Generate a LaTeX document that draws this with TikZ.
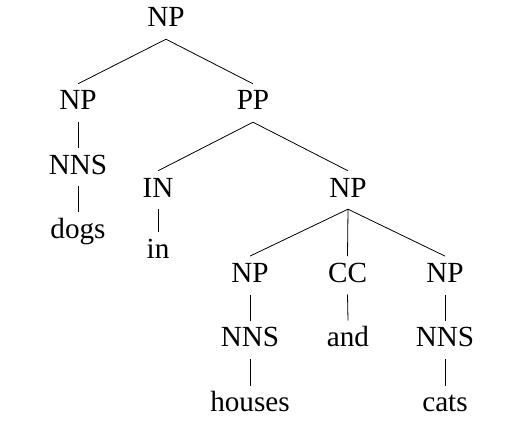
\documentclass[tikz,border=0pt]{standalone}
\usepackage{fontspec}
\setmainfont{Liberation Serif}
\begin{document}
\begin{tikzpicture}[x=1pt,y=-1pt,
  lab/.style={anchor=base,inner sep=6pt,text height=20pt,text depth=6pt,font=\fontsize{29.2}{31}\selectfont},
  br/.style={line width=0.8pt}]
\useasboundingbox (0,0) rectangle (512,428);
\node[lab] (root) at (166,27) {NP};
\node[lab] (np1) at (78,110) {NP};
\node[lab] (pp) at (253,110) {PP};
\node[lab] (nns1) at (78,174) {NNS};
\node[lab] (dogs) at (78,238.5) {dogs};
\node[lab] (inn) at (158,197) {IN};
\node[lab] (np2) at (348,197) {NP};
\node[lab] (inw) at (158,258.5) {in};
\node[lab] (np3) at (250,282.3) {NP};
\node[lab] (cc) at (347.5,282.3) {CC};
\node[lab] (np4) at (445,282.3) {NP};
\node[lab] (nns2) at (250,346.7) {NNS};
\node[lab] (and) at (348,346.7) {and};
\node[lab] (nns3) at (445,346.7) {NNS};
\node[lab] (houses) at (250,411.7) {houses};
\node[lab] (cats) at (445,411.7) {cats};
\draw[br] (root.south) -- (np1.north);
\draw[br] (root.south) -- (pp.north);
\draw[br] (np1.south) -- (nns1.north);
\draw[br] (nns1.south) -- (dogs.north);
\draw[br] (pp.south) -- (inn.north);
\draw[br] (pp.south) -- (np2.north);
\draw[br] (inn.south) -- (inw.north);
\draw[br] (np2.south) -- (np3.north);
\draw[br] (np2.south) -- (cc.north);
\draw[br] (np2.south) -- (np4.north);
\draw[br] (np3.south) -- (nns2.north);
\draw[br] (cc.south) -- (and.north);
\draw[br] (np4.south) -- (nns3.north);
\draw[br] (nns2.south) -- (houses.north);
\draw[br] (nns3.south) -- (cats.north);
\end{tikzpicture}
\end{document}
